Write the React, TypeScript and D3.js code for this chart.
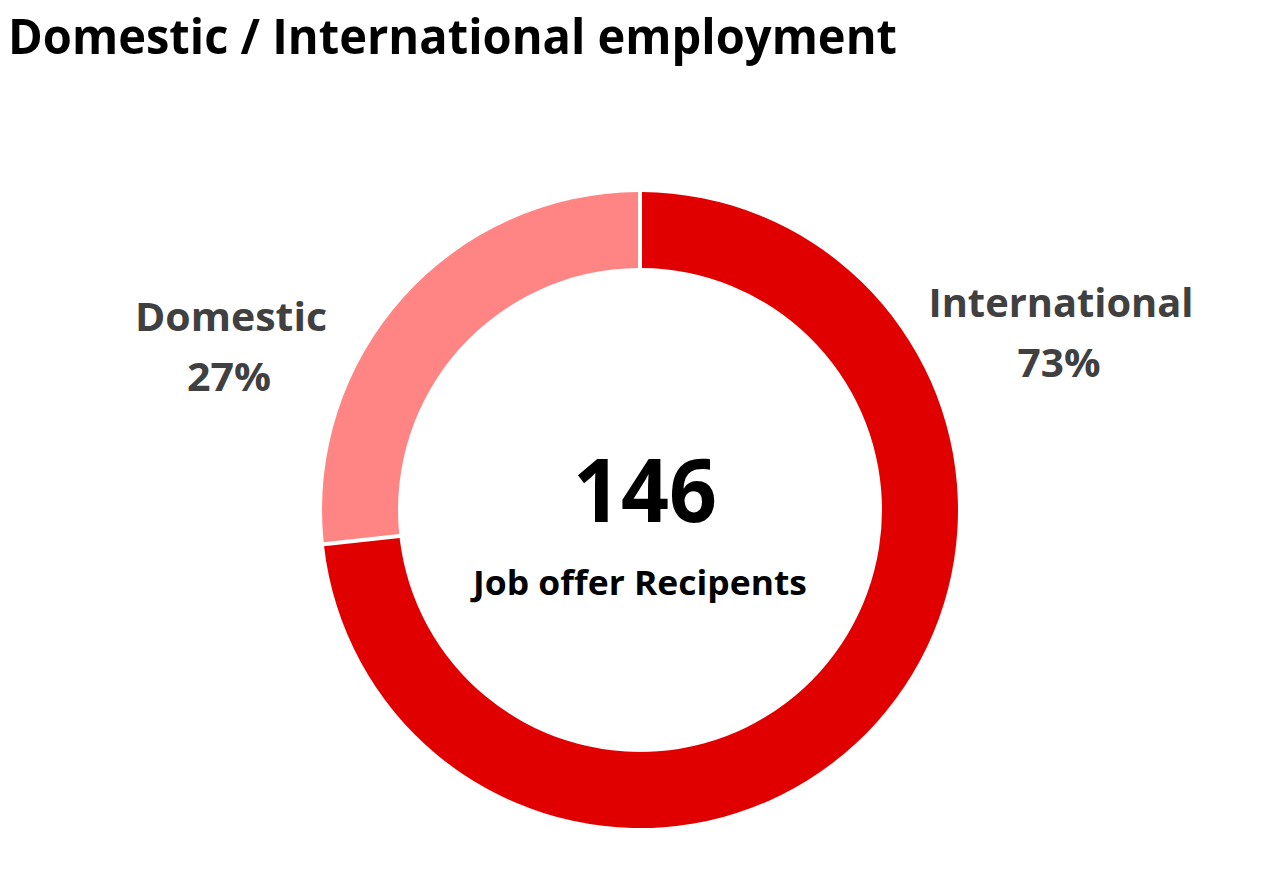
import React from "react";
import * as d3 from "d3";

const categories = ["International", "Domestic"];
const counts = [107, 39];
const percentLabels = ["73%", "27%"];
const colors = ["#E00000", "#FF8585"];
const totalLabel = "146";
const centerCaption = "Job offer Recipents";
const title = "Domestic / International employment";

export default function App() {
  const width = 1280;
  const height = 890;
  const cx = 640;
  const cy = 510;
  const outerR = 318;
  const innerR = 242;

  const data = categories.map((c, i) => ({ name: c, value: counts[i], pct: percentLabels[i], color: colors[i] }));
  const pie = d3
    .pie<any>()
    .value((d: any) => d.value)
    .sort(null)
    .startAngle(0)
    .endAngle(2 * Math.PI);
  const arcs = pie(data);
  const arc = d3
    .arc<any>()
    .innerRadius(innerR)
    .outerRadius(outerR)
    .padAngle(0.04)
    .padRadius(100);

  const labelPos: Record<string, { x: number; y: number; w: number }> = {
    International: { x: 1061, y: 317, w: 265 },
    Domestic: { x: 231, y: 331, w: 192 },
  };
  const pctWidth: Record<string, number> = { International: 83, Domestic: 84 };

  return (
    <svg
      width={width}
      height={height}
      style={{ position: "absolute", left: 0, top: 0, background: "#fff" }}
      fontFamily="'Open Sans', 'Noto Sans', sans-serif"
    >
      <text x={8} y={54} fontSize={49} fontWeight={700} fill="#000" textLength={889} lengthAdjust="spacingAndGlyphs">
        {title}
      </text>
      <g transform={`translate(${cx},${cy})`}>
        {arcs.map((a, i) => (
          <path key={i} d={arc(a) as string} fill={a.data.color} />
        ))}
      </g>
      {data.map((d) => {
        const p = labelPos[d.name];
        return (
          <g key={d.name} fill="#404040" fontWeight={700} textAnchor="middle">
            <text x={p.x} y={p.y} fontSize={39} textLength={p.w} lengthAdjust="spacingAndGlyphs">
              {d.name}
            </text>
            <text x={p.x - 2} y={p.y + 60} fontSize={39} textLength={pctWidth[d.name]} lengthAdjust="spacingAndGlyphs">
              {d.pct}
            </text>
          </g>
        );
      })}
      <text x={645} y={522} fontSize={87} fontWeight={700} fill="#000" textAnchor="middle" textLength={144} lengthAdjust="spacingAndGlyphs">
        {totalLabel}
      </text>
      <text x={640} y={595} fontSize={34} fontWeight={700} fill="#000" textAnchor="middle" textLength={334} lengthAdjust="spacingAndGlyphs">
        {centerCaption}
      </text>
    </svg>
  );
}
